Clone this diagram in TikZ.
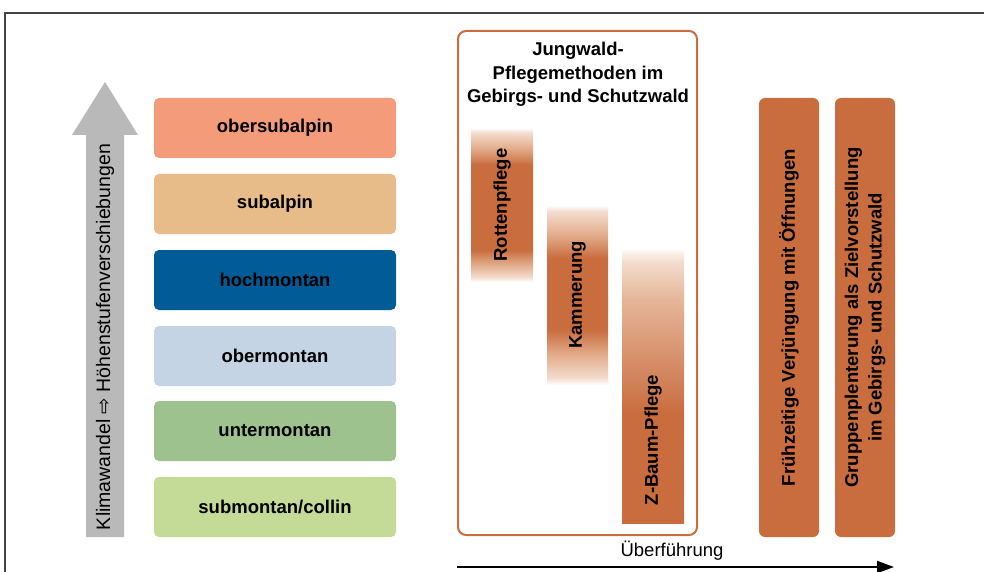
\documentclass[tikz,border=0pt]{standalone}
\usepackage{fontspec}
\setmainfont{Liberation Sans}
\newfontfamily\symfont{DejaVu Sans}
\usetikzlibrary{arrows.meta}
\definecolor{framec}{HTML}{444444}
\definecolor{grayc}{HTML}{B9B9B9}
\definecolor{cobs}{HTML}{F49B79}
\definecolor{csub}{HTML}{E8BC88}
\definecolor{choch}{HTML}{005B96}
\definecolor{cober}{HTML}{C4D4E4}
\definecolor{cunt}{HTML}{9DC28E}
\definecolor{csmc}{HTML}{C4DA97}
\definecolor{orc}{HTML}{C96D3E}
\definecolor{orA}{HTML}{F3DCCD}
\definecolor{orB}{HTML}{E3AD8C}
\definecolor{orC}{HTML}{E6B598}
\definecolor{orD}{HTML}{D99572}
\definecolor{orW}{HTML}{FDF8F5}
\pgfdeclareverticalshading{rottshade}{100bp}{color(0bp)=(white); color(25bp)=(white); color(26.6bp)=(orA); color(30.5bp)=(orB); color(35.4bp)=(orc); color(63bp)=(orc); color(68.5bp)=(orB); color(73.4bp)=(orA); color(75bp)=(white); color(100bp)=(white)}
\pgfdeclareverticalshading{kammshade}{100bp}{color(0bp)=(white); color(25bp)=(white); color(27bp)=(orA); color(33.3bp)=(orB); color(40.3bp)=(orc); color(60.3bp)=(orc); color(66.7bp)=(orB); color(73.1bp)=(orA); color(75bp)=(white); color(100bp)=(white)}
\pgfdeclareverticalshading{zbaumshade}{100bp}{color(0bp)=(orc); color(45bp)=(orc); color(56.7bp)=(orD); color(65.8bp)=(orC); color(72.8bp)=(orA); color(75bp)=(orW); color(100bp)=(orW)}
\begin{document}
\begin{tikzpicture}[x=1pt,y=-1pt,
  bfont/.style={font=\fontsize{18.5}{23.5}\selectfont\bfseries},
  zone/.style={bfont, rounded corners=5pt, minimum width=242pt, minimum height=60pt, inner sep=0pt, text=black},
  barlabel/.style={bfont, rotate=90, inner sep=0pt, text=black},
  rightbar/.style={bfont, fill=orc, rounded corners=6pt, rotate=90, minimum width=439pt, minimum height=60pt, inner sep=0pt, align=center},
  normfont/.style={font=\fontsize{18.5}{22}\selectfont}
]
\useasboundingbox (0,0) rectangle (984,572);
% frame
\draw[framec, line width=1.5pt] (5,572) -- (5,13) -- (984,13);

% gray arrow
\fill[grayc] (86,537) -- (86,135) -- (72,135) -- (105,82) -- (138,135) -- (124,135) -- (124,537) -- cycle;
\node[normfont, font=\fontsize{19.5}{22}\selectfont, rotate=90, inner sep=0pt] (klima) at (105,337) {Klimawandel {\symfont ⇨} Höhenstufenverschiebungen};

% altitude zones
\node[zone, fill=cobs] (z1) at (275,128) {obersubalpin};
\node[zone, fill=csub] (z2) at (275,204) {subalpin};
\node[zone, fill=choch] (z3) at (275,280) {hochmontan};
\node[zone, fill=cober] (z4) at (275,356) {obermontan};
\node[zone, fill=cunt] (z5) at (275,431) {untermontan};
\node[zone, fill=csmc] (z6) at (275,507) {submontan/collin};

% Jungwald box
\node[draw=orc, line width=2pt, rounded corners=8pt, minimum width=239pt, minimum height=504pt, inner sep=0pt] (jw) at (577.5,283) {};
\node[bfont, align=center, inner sep=0pt] (title) at (578,74.5) {Jungwald-\\Pflegemethoden im\\Gebirgs- und Schutzwald};

% Rottenpflege bar
\shade[shading=rottshade] (471,128) rectangle (533,282);
\node[barlabel] (rp) at (502,205) {Rottenpflege};

% Kammerung bar
\shade[shading=kammshade] (547,205) rectangle (608,385);
\node[barlabel] (km) at (577.5,295) {Kammerung};

% Z-Baum-Pflege bar
\shade[shading=zbaumshade] (622,250) rectangle (684,523);
\node[barlabel] (zb) at (653,440) {Z-Baum-Pflege};

% right bars
\node[rightbar] (fv) at (789,317.5) {Frühzeitige Verjüngung mit Öffnungen};
\node[rightbar] (gp) at (865,317.5) {Gruppenplenterung als Zielvorstellung\\im Gebirgs- und Schutzwald};

% Ueberfuehrung arrow
\coordinate (u1) at (457,567);
\coordinate (u2) at (894,567);
\draw[line width=2pt, -{Triangle[length=17pt,width=12pt]}] (u1) -- (u2);
\node[normfont, inner sep=0pt] (ueb) at (672,551) {Überführung};
\end{tikzpicture}
\end{document}
